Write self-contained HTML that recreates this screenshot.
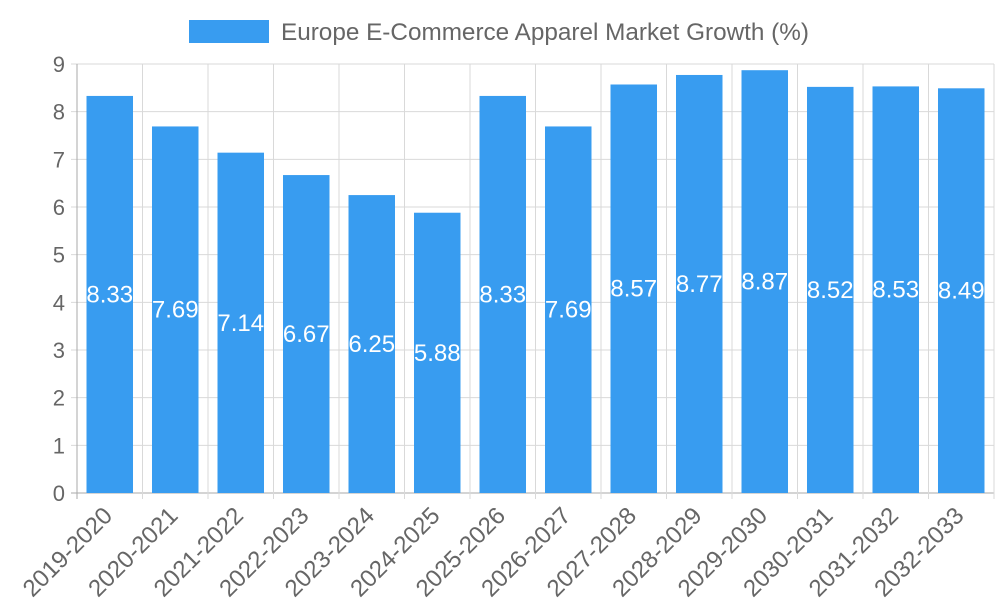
<!DOCTYPE html>
<html><head><meta charset="utf-8">
<style>
html,body{margin:0;padding:0;background:#fff;}
svg{display:block;font-family:"Liberation Sans",sans-serif;}
</style></head>
<body>
<svg id="chart" width="1000" height="600"></svg>
<script>
const categories = ["2019-2020","2020-2021","2021-2022","2022-2023","2023-2024","2024-2025","2025-2026","2026-2027","2027-2028","2028-2029","2029-2030","2030-2031","2031-2032","2032-2033"];
const values = [8.33,7.69,7.14,6.67,6.25,5.88,8.33,7.69,8.57,8.77,8.87,8.52,8.53,8.49];
const yTicks = [0,1,2,3,4,5,6,7,8,9];
const seriesName = "Europe E-Commerce Apparel Market Growth (%)";

const NS = "http://www.w3.org/2000/svg";
const svg = document.getElementById("chart");
const L = 77, R = 994, T = 64, B = 493, yMax = 9;
const step = (R - L) / categories.length;
const xPos = i => L + step * i;
const yPos = v => B - (v / yMax) * (B - T);
function mk(tag, attrs, parent) {
  const e = document.createElementNS(NS, tag);
  for (const k in attrs) e.setAttribute(k, attrs[k]);
  (parent || svg).appendChild(e);
  return e;
}

// legend
const lg = mk("g", {});


mk("rect", {x:189, y:20, width:80, height:23, fill:"#389cf0"}, lg);
const lt = mk("text", {x:281, y:40, "font-size":24.3, fill:"#666"}, lg);
lt.textContent = seriesName;

// horizontal grid + y ticks
yTicks.forEach(t => {
  const y = yPos(t);
  const gl = mk("line", {x1:L-6, x2:R, y1:y, y2:y, stroke: t===0 ? "#aaa" : "#d9d9d9", "stroke-width":1});
  
  
  const tx = mk("text", {x:L-12, y:y+8, "font-size":22, fill:"#666", "text-anchor":"end"});
  
  
  tx.textContent = t;
});

// vertical grid
for (let i = 0; i <= categories.length; i++) {
  const x = xPos(i);
  const vl = mk("line", {x1:x, x2:x, y1:T, y2:B+6, stroke: i===0 ? "#aaa" : "#d9d9d9", "stroke-width":1});
  
  
}

// bars
const bw = step * 0.71;
values.forEach((v, i) => {
  const cx = xPos(i) + step / 2;
  const y = yPos(v);
  const r = mk("rect", {x:cx - bw/2, y:y, width:bw, height:B - y, fill:"#389cf0"});
  
  
  const vt = mk("text", {x:cx, y:(y + B)/2 + 8, "font-size":24, fill:"#fff", "text-anchor":"middle"});
  
  
  vt.textContent = v.toFixed(2);
  const xl = mk("text", {x:0, y:0, "font-size":24, fill:"#666", "text-anchor":"end",
    transform:`translate(${cx+4},${B+24}) rotate(-45)`});
  
  
  xl.textContent = categories[i];
});
</script>
</body></html>
